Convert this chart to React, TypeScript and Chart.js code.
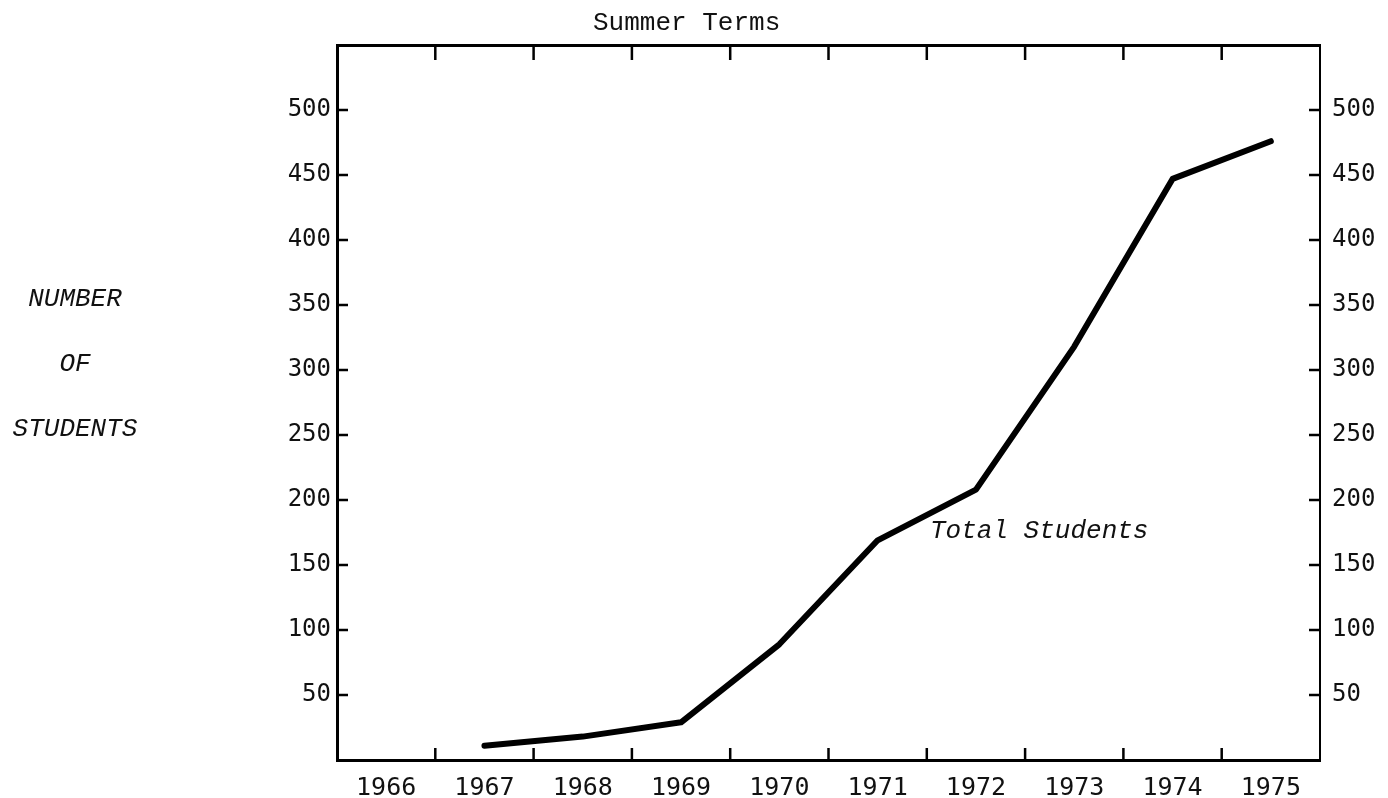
import React, { useEffect, useRef } from 'react';
import { Chart, registerables } from 'chart.js';

Chart.register(...registerables);

const years = ['1966', '1967', '1968', '1969', '1970', '1971', '1972', '1973', '1974', '1975'];
const totalStudents: (number | null)[] = [null, 11, 18, 29, 89, 169, 208, 318, 447, 476];
const yTickLabels = [50, 100, 150, 200, 250, 300, 350, 400, 450, 500];
const yMin = 0;
const yMax = 550;
const yStep = 50;
const chartTitle = 'Summer Terms';
const seriesLabel = 'Total Students';
const sideLabel = ['NUMBER', 'OF', 'STUDENTS'];
const sideLabelValues = [350, 300, 250];

const W = 1388;
const H = 798;

const decorPlugin = {
  id: 'decor',
  afterDraw(chart: any) {
    const { ctx, chartArea } = chart;
    const xs = chart.scales.x;
    const ys = chart.scales.y;
    ctx.save();
    ctx.strokeStyle = '#000';
    ctx.lineWidth = 2.5;
    ctx.lineCap = 'butt';
    // inward y tick marks
    yTickLabels.forEach((v) => {
      const py = ys.getPixelForValue(v);
      ctx.beginPath();
      ctx.moveTo(chartArea.left, py);
      ctx.lineTo(chartArea.left + 11, py);
      ctx.moveTo(chartArea.right, py);
      ctx.lineTo(chartArea.right - 11, py);
      ctx.stroke();
    });
    // inward x tick marks between categories
    for (let i = 1; i < years.length; i++) {
      const px = (xs.getPixelForValue(i - 1) + xs.getPixelForValue(i)) / 2;
      ctx.beginPath();
      ctx.moveTo(px, chartArea.bottom);
      ctx.lineTo(px, chartArea.bottom - 12);
      ctx.moveTo(px, chartArea.top);
      ctx.lineTo(px, chartArea.top + 15);
      ctx.stroke();
    }
    // texts
    ctx.fillStyle = '#111';
    ctx.textBaseline = 'middle';
    ctx.textAlign = 'left';
    ctx.font = '26px "Liberation Mono", "DejaVu Sans Mono", monospace';
    ctx.fillText(chartTitle, chartArea.left + 256, 23);

    ctx.font = 'italic 26px "Liberation Mono", "DejaVu Sans Mono", monospace';
    ctx.fillText(seriesLabel, 930, ys.getPixelForValue(176));

    ctx.textAlign = 'center';
    sideLabel.forEach((t, i) => {
      ctx.fillText(t, 75, ys.getPixelForValue(sideLabelValues[i]) - 6);
    });
    ctx.restore();
  },
};

const tickCb = (v: any) => (yTickLabels.includes(Number(v)) ? String(v) : '');

export default function App() {
  const ref = useRef<HTMLCanvasElement | null>(null);
  useEffect(() => {
    if (!ref.current) return;
    const chart = new Chart(ref.current, {
      type: 'line',
      data: {
        labels: years,
        datasets: [
          {
            label: seriesLabel,
            data: totalStudents,
            borderColor: '#000',
            backgroundColor: '#000',
            borderWidth: 6,
            pointRadius: 0,
            tension: 0,
            borderCapStyle: 'round',
            borderJoinStyle: 'round',
            spanGaps: false,
          },
        ],
      },
      options: {
        animation: false,
        responsive: false,
        maintainAspectRatio: false,
        layout: { padding: 0 },
        plugins: {
          legend: { display: false },
          tooltip: { enabled: false },
          title: { display: false },
        },
        scales: {
          x: {
            type: 'category',
            position: 'bottom',
            offset: true,
            grid: { display: false, drawTicks: false, offset: true },
            border: { display: true, width: 3, color: '#000' },
            ticks: {
              color: '#111',
              padding: 13,
              maxRotation: 0,
              autoSkip: false,
              font: { family: '"DejaVu Sans Mono", monospace', size: 25 },
            },
            afterFit: (s: any) => {
              s.height = 38;
            },
          },
          xTop: {
            type: 'category',
            position: 'top',
            offset: true,
            grid: { display: false, drawTicks: false },
            border: { display: true, width: 3, color: '#000' },
            ticks: { display: false },
            afterFit: (s: any) => {
              s.height = 45;
            },
          },
          y: {
            type: 'linear',
            position: 'left',
            min: yMin,
            max: yMax,
            grid: { display: false, drawTicks: false },
            border: { display: true, width: 3, color: '#000' },
            ticks: {
              stepSize: yStep,
              color: '#111',
              padding: 6,
              callback: tickCb,
              font: { family: '"DejaVu Sans Mono", monospace', size: 24 },
            },
            afterFit: (s: any) => {
              s.width = 337;
            },
          },
          yRight: {
            type: 'linear',
            position: 'right',
            min: yMin,
            max: yMax,
            grid: { display: false, drawTicks: false },
            border: { display: true, width: 2, color: '#000' },
            ticks: {
              stepSize: yStep,
              color: '#111',
              padding: 12,
              callback: tickCb,
              font: { family: '"DejaVu Sans Mono", monospace', size: 24 },
            },
            afterFit: (s: any) => {
              s.width = W - 1320;
            },
          },
        },
      } as any,
      plugins: [decorPlugin],
    });
    return () => chart.destroy();
  }, []);

  return (
    <div style={{ position: 'fixed', left: 0, top: 0, width: W, height: H, background: '#fff' }}>
      <canvas ref={ref} width={W} height={H} style={{ display: 'block', width: W, height: H }} />
    </div>
  );
}
